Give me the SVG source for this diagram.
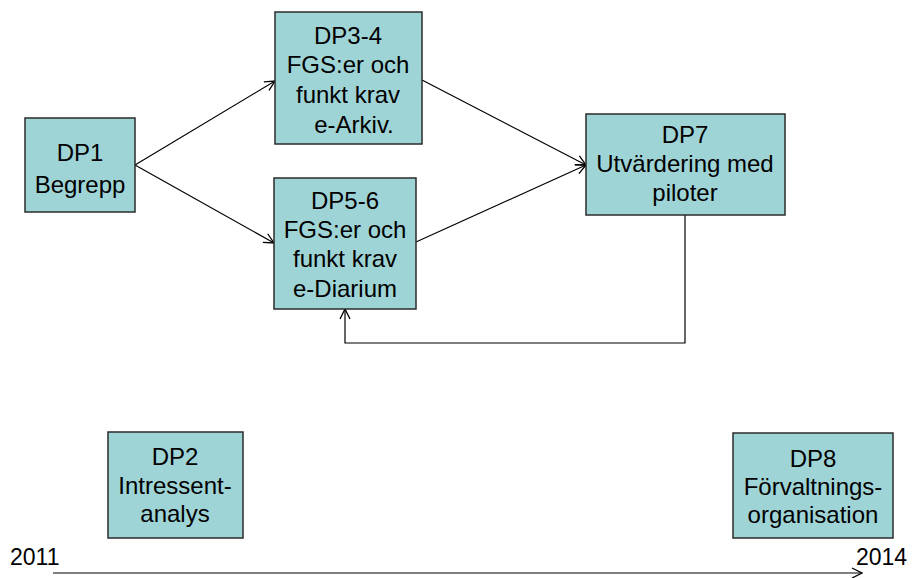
<svg xmlns="http://www.w3.org/2000/svg" width="912" height="578" viewBox="0 0 912 578">
  <style>
    .box { fill: #9fd4d6; stroke: #2b2b2b; stroke-width: 1.5; }
    .lbl { font-family: "Liberation Sans", Arial, sans-serif; font-size: 24px; fill: #000; text-anchor: middle; }
    .yr { font-family: "Liberation Sans", Arial, sans-serif; font-size: 23px; fill: #000; }
    .con { fill: none; stroke: #000; stroke-width: 1.2; }
  </style>
  <defs>
    <marker id="open" viewBox="0 0 12 12" refX="11" refY="6" markerWidth="12" markerHeight="12" markerUnits="userSpaceOnUse" orient="auto">
      <path d="M1,1 L11,6 L1,11" fill="none" stroke="#000" stroke-width="1.3"/>
    </marker>
  </defs>

  <g id="connectors">
    <line class="con" x1="135" y1="165" x2="275" y2="81" marker-end="url(#open)"/>
    <line class="con" x1="135" y1="165" x2="274" y2="243" marker-end="url(#open)"/>
    <line class="con" x1="422" y1="80" x2="586" y2="165" marker-end="url(#open)"/>
    <line class="con" x1="416" y1="242" x2="586" y2="165" marker-end="url(#open)"/>
    <polyline class="con" points="685,215 685,343 345,343 345,309" stroke="#333" stroke-width="1.6" marker-end="url(#open)"/>
    <line class="con" x1="53" y1="573" x2="862" y2="573" marker-end="url(#open)"/>
  </g>

  <g id="dp1">
    <rect class="box" x="25" y="118" width="110" height="94"/>
    <text class="lbl" x="80" y="161">DP1</text>
    <text class="lbl" x="80" y="193">Begrepp</text>
  </g>

  <g id="dp3-4">
    <rect class="box" x="275" y="12" width="147" height="132"/>
    <text class="lbl" x="348" y="44">DP3-4</text>
    <text class="lbl" x="348" y="73">FGS:er och</text>
    <text class="lbl" x="348" y="103">funkt krav</text>
    <text class="lbl" x="354" y="133">e-Arkiv.</text>
  </g>

  <g id="dp5-6">
    <rect class="box" x="274" y="178" width="142" height="131"/>
    <text class="lbl" x="345" y="209">DP5-6</text>
    <text class="lbl" x="345" y="238">FGS:er och</text>
    <text class="lbl" x="345" y="267">funkt krav</text>
    <text class="lbl" x="345" y="297">e-Diarium</text>
  </g>

  <g id="dp7">
    <rect class="box" x="586" y="114" width="199" height="101"/>
    <text class="lbl" x="685" y="143">DP7</text>
    <text class="lbl" x="685" y="172">Utvärdering med</text>
    <text class="lbl" x="685" y="201">piloter</text>
  </g>

  <g id="dp2">
    <rect class="box" x="108" y="432" width="135" height="106"/>
    <text class="lbl" x="175" y="465">DP2</text>
    <text class="lbl" x="175" y="494">Intressent-</text>
    <text class="lbl" x="175" y="522">analys</text>
  </g>

  <g id="dp8">
    <rect class="box" x="733" y="433" width="160" height="105"/>
    <text class="lbl" x="813" y="467">DP8</text>
    <text class="lbl" x="813" y="495">Förvaltnings-</text>
    <text class="lbl" x="813" y="523">organisation</text>
  </g>

  <g id="timeline-labels">
    <text class="yr" x="10" y="565">2011</text>
    <text class="yr" x="856" y="565">2014</text>
  </g>
</svg>
